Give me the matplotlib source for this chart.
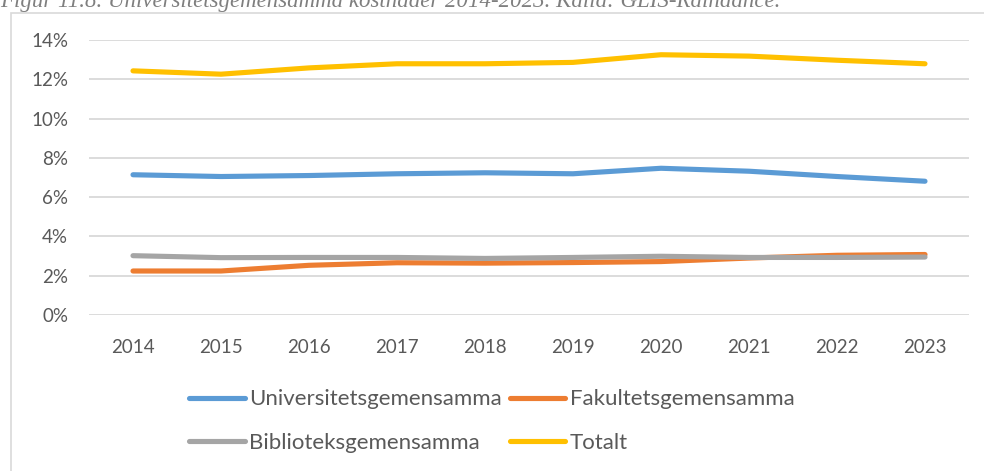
import matplotlib
matplotlib.use("Agg")
import matplotlib.pyplot as plt
from matplotlib.patches import Rectangle
from matplotlib.lines import Line2D

years = ["2014", "2015", "2016", "2017", "2018", "2019", "2020", "2021", "2022", "2023"]
universitet = [7.14, 7.05, 7.10, 7.19, 7.24, 7.19, 7.47, 7.32, 7.05, 6.81]
fakultet = [2.24, 2.24, 2.53, 2.66, 2.64, 2.67, 2.72, 2.90, 3.04, 3.08]
bibliotek = [3.02, 2.92, 2.93, 2.93, 2.88, 2.93, 2.99, 2.93, 2.93, 2.95]
totalt = [12.43, 12.26, 12.58, 12.79, 12.79, 12.86, 13.25, 13.18, 12.97, 12.79]
series_names = ["Universitetsgemensamma", "Fakultetsgemensamma",
                "Biblioteksgemensamma", "Totalt"]
y_ticks = [0, 2, 4, 6, 8, 10, 12, 14]
caption = "Figur 11.8. Universitetsgemensamma kostnader 2014-2023. Källa: GLIS-Raindance."

colors = ["#5B9BD5", "#ED7D31", "#A5A5A5", "#FFC000"]
text_color = "#595959"
grid_color = "#D9D9D9"
W, H = 984, 471

plt.rcParams["font.family"] = ["Lato", "DejaVu Sans"]

fig = plt.figure(figsize=(W / 100, H / 100), dpi=100)

# chart frame (runs past the right and bottom edges)
fig.patches.append(Rectangle((11 / W, -0.05), 1.2, 1 - 13 / H + 0.05,
                             transform=fig.transFigure, fill=False,
                             edgecolor=grid_color, linewidth=1.2))

# caption above the frame
fig.text(0.0, 1 - 7 / H, caption, family="Liberation Serif", style="italic",
         fontsize=16.5, color="#7F7F7F", ha="left", va="baseline")

ax = fig.add_axes([89 / W, 1 - 315 / H, (969 - 89) / W, (315 - 40) / H])
x = list(range(len(years)))
for vals, c, name in zip([universitet, fakultet, bibliotek, totalt], colors, series_names):
    ax.plot(x, vals, color=c, linewidth=3.7, solid_capstyle="round",
            solid_joinstyle="round", label=name, zorder=3)

ax.set_xlim(-0.5, len(years) - 0.5)
ax.set_ylim(0, 14)
ax.set_yticks(y_ticks)
ax.set_yticklabels([f"{v}%" for v in y_ticks])
ax.set_xticks(x)
ax.set_xticklabels(years)
ax.yaxis.grid(True, color=grid_color, linewidth=1.3, zorder=0)
ax.set_axisbelow(True)
for s in ax.spines.values():
    s.set_visible(False)
ax.tick_params(axis="both", length=0, labelsize=13.5, colors=text_color)
ax.tick_params(axis="x", pad=17)
ax.tick_params(axis="y", pad=15)

# legend laid out row by row: two entries per row
handles = [Line2D([0], [0], color=c, linewidth=3.7, solid_capstyle="round") for c in colors]
order = [0, 2, 1, 3]
fig.legend([handles[i] for i in order], [series_names[i] for i in order],
           loc="center", ncol=2, bbox_to_anchor=(492 / W, 1 - 421 / H),
           frameon=False, fontsize=16, labelcolor=text_color,
           handlelength=2.5, handletextpad=0.2, columnspacing=0.35,
           labelspacing=1.05)

fig.savefig("out.png", dpi=100)
